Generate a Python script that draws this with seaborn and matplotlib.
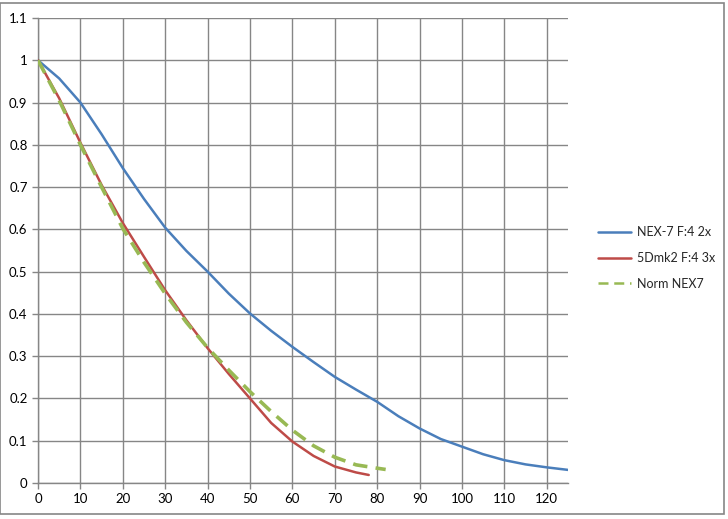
import pandas as pd
import seaborn as sns
import matplotlib.pyplot as plt
from matplotlib.patches import Rectangle

# valores
x_nex7 = [0, 5, 10, 15, 20, 25, 30, 35, 40, 45, 50, 55, 60, 65, 70, 75, 80, 85, 90, 95, 100, 105, 110, 115, 120, 125]
y_nex7 = [1.0, 0.957, 0.90, 0.825, 0.745, 0.672, 0.604, 0.549, 0.50, 0.448, 0.401, 0.36, 0.322, 0.286, 0.251, 0.221, 0.192, 0.158, 0.129, 0.104, 0.086, 0.068, 0.054, 0.044, 0.037, 0.031]

x_5d = [0, 5, 10, 15, 20, 25, 30, 35, 40, 45, 50, 55, 60, 65, 70, 75, 78]
y_5d = [1.0, 0.91, 0.805, 0.705, 0.615, 0.535, 0.456, 0.385, 0.319, 0.258, 0.20, 0.142, 0.098, 0.064, 0.039, 0.025, 0.019]

x_norm = [0, 5, 10, 15, 20, 25, 30, 35, 40, 45, 50, 55, 60, 65, 70, 75, 80, 82]
y_norm = [1.0, 0.905, 0.80, 0.70, 0.602, 0.522, 0.448, 0.38, 0.32, 0.267, 0.216, 0.169, 0.125, 0.088, 0.061, 0.043, 0.035, 0.032]

series = ['NEX-7 F:4 2x', '5Dmk2 F:4 3x', 'Norm NEX7']

df = pd.concat([
    pd.DataFrame({'x': x_nex7, 'y': y_nex7, 'serie': series[0]}),
    pd.DataFrame({'x': x_5d, 'y': y_5d, 'serie': series[1]}),
    pd.DataFrame({'x': x_norm, 'y': y_norm, 'serie': series[2]}),
])

sns.set_style('white')
plt.rcParams['font.family'] = ['Lato', 'DejaVu Sans']

fig = plt.figure(figsize=(7.28, 5.19), dpi=100)
ax = fig.add_axes([38 / 728, 1 - 483 / 519, (568 - 38) / 728, (483 - 18) / 519])

colores = {series[0]: '#4a7ebb', series[1]: '#be4b48', series[2]: '#98b954'}
estilos = {series[0]: '', series[1]: '', series[2]: (4, 2.3)}
sns.lineplot(data=df, x='x', y='y', hue='serie', style='serie', palette=colores,
             dashes=estilos, sort=False, estimator=None, ax=ax, zorder=3)
for linea in ax.lines:
    linea.set_linewidth(1.8)
ax.lines[2].set_linewidth(2.6)

ax.set_xlim(0, 125)
ax.set_ylim(0, 1.1)
ax.set_xticks(range(0, 121, 10))
ax.set_yticks([i / 10 for i in range(12)])
ax.set_yticklabels(['0', '0.1', '0.2', '0.3', '0.4', '0.5', '0.6', '0.7', '0.8', '0.9', '1', '1.1'])
ax.grid(True, color='#868686', linewidth=1)
ax.set_axisbelow(True)
ax.set_xlabel('')
ax.set_ylabel('')
for lado in ['top', 'right']:
    ax.spines[lado].set_visible(False)
for lado in ['left', 'bottom']:
    ax.spines[lado].set_color('#868686')
    ax.spines[lado].set_linewidth(1)
ax.tick_params(axis='both', colors='#868686', length=4, width=1, labelsize=9.5,
               labelcolor='black', direction='out', left=True, bottom=True)

# leyenda a la derecha
h, l = ax.get_legend_handles_labels()
ax.legend(h, l, loc='center left', bbox_to_anchor=(598 / 728, 261 / 519),
          bbox_transform=fig.transFigure, frameon=False, fontsize=9,
          handlelength=2.6, handletextpad=0.5, labelspacing=1.1,
          borderpad=0, borderaxespad=0)

# borde del grafico
fig.patches.append(Rectangle((0, 5 / 519), 724 / 728, 511 / 519, transform=fig.transFigure,
                             fill=False, edgecolor='#868686', linewidth=1.2))

plt.savefig('out.png', dpi=100)
